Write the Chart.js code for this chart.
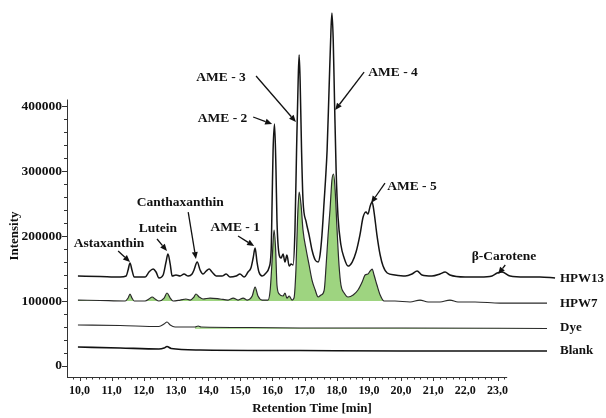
<!DOCTYPE html>
<html><head><meta charset="utf-8">
<script src="https://cdn.jsdelivr.net/npm/chart.js@4.4.0/dist/chart.umd.min.js"></script>
<style>html,body{margin:0;padding:0;background:#fff}</style>
</head><body>
<canvas id="c" width="606" height="418"></canvas>
<script>
// ---- data (retention time in min, intensity) ----
const hpw13Time = [9.95,10.64,11.26,11.45,11.51,11.57,11.63,11.70,12.04,12.16,12.29,12.38,12.47,12.60,12.69,12.75,12.82,12.88,13.00,13.13,13.25,13.38,13.50,13.56,13.66,13.75,13.84,13.94,14.03,14.12,14.25,14.43,14.56,14.68,14.87,14.99,15.12,15.24,15.33,15.40,15.46,15.52,15.58,15.68,15.80,15.89,15.96,15.99,16.02,16.065,16.11,16.14,16.21,16.27,16.33,16.39,16.45,16.52,16.58,16.64,16.70,16.75,16.80,16.83,16.86,16.905,16.95,17.05,17.14,17.23,17.33,17.42,17.48,17.54,17.61,17.65,17.70,17.76,17.82,17.85,17.89,17.93,17.98,18.04,18.13,18.23,18.35,18.48,18.60,18.72,18.82,18.91,18.97,19.04,19.10,19.16,19.25,19.35,19.44,19.57,19.81,20.13,20.34,20.50,20.65,20.96,21.21,21.37,21.52,21.99,22.46,22.83,22.99,23.14,23.39,23.86,24.32,24.79];
const hpw13Int = [138500,137700,136900,138500,147700,158500,147700,136900,136900,144600,149200,144600,135400,140000,160000,172300,156900,138500,140000,138500,141500,138500,141500,147700,160000,147700,141500,146200,149200,144600,138500,138500,141500,136900,138500,141500,136900,144600,150800,166200,181500,160000,144600,138500,143100,150800,178500,255400,332300,372300,301500,224600,170800,166200,172300,160000,170800,153800,156900,155400,209200,332300,440000,478500,440000,332300,255400,221500,201500,178500,163100,160000,170800,201500,255400,286200,332300,424600,516900,543100,501500,409200,301500,229200,186200,166200,153800,160000,175400,201500,229200,236900,233800,246200,252300,236900,201500,170800,153800,143100,140000,138500,141500,146200,140000,138500,141500,144600,140000,136900,136900,138500,143100,144600,138500,136900,136900,135400];

const hpw7Time = [9.95,10.64,11.42,11.51,11.57,11.63,11.70,12.04,12.16,12.26,12.35,12.47,12.63,12.72,12.82,12.91,13.13,13.31,13.44,13.56,13.62,13.72,13.84,14.06,14.37,14.62,14.78,14.93,15.09,15.21,15.37,15.46,15.55,15.68,15.86,15.93,15.99,16.05,16.10,16.14,16.21,16.33,16.39,16.45,16.52,16.61,16.67,16.73,16.78,16.83,16.89,16.95,17.05,17.14,17.23,17.33,17.42,17.51,17.61,17.67,17.73,17.79,17.85,17.90,17.95,18.01,18.07,18.13,18.23,18.35,18.51,18.66,18.79,18.88,18.97,19.04,19.10,19.16,19.25,19.35,19.47,19.81,20.28,20.59,20.84,21.21,21.52,21.77,22.30,23.08,23.86,24.54];
const hpw7Int = [101500,100800,100000,104600,110800,104600,100000,100000,103100,106200,103100,100000,104600,112300,104600,100000,101500,103100,101500,106200,110800,106200,103100,104600,103100,101500,104600,101500,104600,101500,107700,121500,107700,101500,101500,116900,163100,209200,178500,124600,110800,107700,112300,104600,107700,101500,104600,147700,224600,267700,247700,209200,178500,155400,132300,116900,106200,109200,116900,155400,201500,240000,286200,295400,270800,209200,155400,124600,112300,106200,109200,116900,129200,140000,141500,146200,149200,140000,124600,109200,100000,100000,98500,101500,98500,98500,101500,98500,98500,96900,96900,96900];

const dyeTime = [9.95,11.26,12.47,12.63,12.72,12.82,12.97,13.59,13.69,13.78,15.30,16.86,19.97,24.54];
const dyeInt = [63100,62300,60800,64600,67700,63100,60000,60000,61500,60000,59200,58500,58500,57700];

const blankTime = [9.95,11.26,12.47,12.63,12.72,12.85,13.75,16.86,19.97,24.54];
const blankInt = [29200,27700,26200,27700,30000,26900,24600,23800,23100,23100];

const traceNames = ['HPW13','HPW7','Dye','Blank'];
const traceNameInt = [133800,95400,58500,23100];
const hpw7FillBase = 100000;
const dyeFillBase = 57000;
const dyeFillStart = 13.0;

const xTickValues = [10,11,12,13,14,15,16,17,18,19,20,21,22,23];
const yTickValues = [0,100000,200000,300000,400000];

const peakNames = ['Astaxanthin','Lutein','Canthaxanthin','AME - 1','AME - 2','AME - 3','AME - 4','AME - 5','\u03b2-Carotene'];
const peakLabelTime = [10.92,12.44,13.13,14.84,14.45,14.40,19.75,20.34,23.20];
const peakLabelInt = [189000,212300,250800,213800,381500,444600,450800,275400,169200];
const arrowFromTime = [11.20,12.41,13.38,14.93,15.40,15.49,18.85,19.50,23.24];
const arrowFromInt = [176900,195400,236900,200000,383100,446200,452300,281500,155400];
const arrowToTime = [11.57,12.72,13.62,15.43,15.99,16.73,17.95,19.07,23.02];
const arrowToInt = [160000,176900,164600,184600,372300,375400,393800,250800,141500];

const X_MIN = 9.61, X_MAX = 24.85, X_AXIS_END = 23.3;
const Y_MIN = -16900, Y_MAX = 558500, Y_AXIS_END = 410000;

const FONT = "'Liberation Serif','Times New Roman',serif";
const INK = '#111';
const GREEN = 'rgb(158,212,128)';

function pts(t, v) { return t.map((x, i) => ({x: x, y: v[i]})); }

const overlay = {
  id: 'overlay',
  beforeDatasetsDraw(chart) {
    // thin green band under the Dye trace (from dyeFillStart on)
    const ctx = chart.ctx, xs = chart.scales.x, ys = chart.scales.y;
    const meta = chart.getDatasetMeta(2);
    ctx.save();
    ctx.fillStyle = GREEN;
    ctx.beginPath();
    const x0 = xs.getPixelForValue(dyeFillStart);
    const pts2 = meta.data.filter(p => p.x >= x0);
    if (pts2.length) {
      ctx.moveTo(pts2[0].x, ys.getPixelForValue(dyeFillBase));
      pts2.forEach(p => ctx.lineTo(p.x, p.y));
      ctx.lineTo(pts2[pts2.length - 1].x, ys.getPixelForValue(dyeFillBase));
      ctx.closePath();
      ctx.globalAlpha = 0.8;
      ctx.fill();
    }
    ctx.restore();
  },
  afterDraw(chart) {
    const ctx = chart.ctx, xs = chart.scales.x, ys = chart.scales.y;
    const X = v => xs.getPixelForValue(v), Y = v => ys.getPixelForValue(v);
    ctx.save();
    ctx.strokeStyle = '#333'; ctx.lineWidth = 1;
    ctx.beginPath();
    ctx.moveTo(X(X_MIN), Math.round(Y(Y_MIN)) + 0.5); ctx.lineTo(X(X_AXIS_END), Math.round(Y(Y_MIN)) + 0.5);
    ctx.moveTo(Math.round(X(X_MIN)) + 0.5, Y(Y_MIN)); ctx.lineTo(Math.round(X(X_MIN)) + 0.5, Y(Y_AXIS_END));
    ctx.stroke();
    ctx.beginPath();
    for (let k = 49; k <= 116; k++) {
      const v = k / 5;
      const major = k % 5 === 0;
      const px = Math.round(X(v)) + 0.5;
      ctx.moveTo(px, Y(Y_MIN)); ctx.lineTo(px, Y(Y_MIN) + (major ? 4 : 2.5));
    }
    for (let k = 0; k <= 20; k++) {
      const v = k * 20000;
      const major = k % 5 === 0;
      const py = Math.round(Y(v)) + 0.5;
      ctx.moveTo(X(X_MIN), py); ctx.lineTo(X(X_MIN) - (major ? 5 : 3), py);
    }
    ctx.stroke();

    ctx.fillStyle = INK;
    ctx.font = 'bold 13px ' + FONT;
    ctx.save();
    ctx.translate(15, Y(200000));
    ctx.rotate(-Math.PI / 2);
    ctx.textAlign = 'center'; ctx.textBaseline = 'middle';
    ctx.fillText('Intensity', 0, 0);
    ctx.restore();

    ctx.font = 'bold 13.5px ' + FONT;
    ctx.textAlign = 'center'; ctx.textBaseline = 'middle';
    ctx.strokeStyle = INK; ctx.fillStyle = INK; ctx.lineWidth = 1.3;
    peakNames.forEach((name, i) => {
      ctx.fillText(name, X(peakLabelTime[i]), Y(peakLabelInt[i]));
      const x1 = X(arrowFromTime[i]), y1 = Y(arrowFromInt[i]);
      const x2 = X(arrowToTime[i]), y2 = Y(arrowToInt[i]);
      const a = Math.atan2(y2 - y1, x2 - x1);
      const L = 7, W = 3;
      const bx = x2 - L * Math.cos(a), by = y2 - L * Math.sin(a);
      ctx.beginPath(); ctx.moveTo(x1, y1); ctx.lineTo(bx, by); ctx.stroke();
      ctx.beginPath();
      ctx.moveTo(x2, y2);
      ctx.lineTo(bx + W * Math.sin(a), by - W * Math.cos(a));
      ctx.lineTo(bx - W * Math.sin(a), by + W * Math.cos(a));
      ctx.closePath(); ctx.fill();
    });

    ctx.font = 'bold 13px ' + FONT;
    ctx.textAlign = 'left';
    traceNames.forEach((n, i) => {
      ctx.fillText(n, chart.chartArea.right + 3, Y(traceNameInt[i]));
    });
    ctx.restore();
  }
};

new Chart(document.getElementById('c'), {
  type: 'line',
  data: {
    datasets: [
      { label: 'HPW13', data: pts(hpw13Time, hpw13Int), borderColor: '#151515', borderWidth: 1.5, pointRadius: 0, fill: false, cubicInterpolationMode: 'monotone' },
      { label: 'HPW7', data: pts(hpw7Time, hpw7Int), borderColor: '#2a2a2a', borderWidth: 1.2, pointRadius: 0, cubicInterpolationMode: 'monotone',
        fill: { target: { value: hpw7FillBase }, above: GREEN, below: 'rgba(0,0,0,0)' }, backgroundColor: GREEN },
      { label: 'Dye', data: pts(dyeTime, dyeInt), borderColor: '#2a2a2a', borderWidth: 1.1, pointRadius: 0, fill: false, cubicInterpolationMode: 'monotone' },
      { label: 'Blank', data: pts(blankTime, blankInt), borderColor: '#111', borderWidth: 1.6, pointRadius: 0, fill: false, cubicInterpolationMode: 'monotone' }
    ]
  },
  options: {
    responsive: false,
    animation: false,
    layout: { padding: { left: 0, right: 49, top: 3, bottom: 0 } },
    plugins: { legend: { display: false }, tooltip: { enabled: false } },
    scales: {
      x: {
        type: 'linear', min: X_MIN, max: X_MAX,
        grid: { display: false, drawTicks: false },
        border: { display: false },
        afterBuildTicks: s => { s.ticks = xTickValues.map(v => ({ value: v })); },
        afterFit: s => { s.height = 41; s.paddingLeft = 0; s.paddingRight = 0; },
        ticks: { padding: 7, autoSkip: false, maxRotation: 0, color: INK,
          font: { family: FONT, size: 12, weight: 'bold' },
          callback: v => Number(v).toFixed(1).replace('.', ',') },
        title: { display: true, text: 'Retention Time [min]', color: INK,
          font: { family: FONT, size: 13, weight: 'bold' }, padding: { top: 0, bottom: 2 } }
      },
      y: {
        type: 'linear', min: Y_MIN, max: Y_MAX,
        grid: { display: false, drawTicks: false },
        border: { display: false },
        afterBuildTicks: s => { s.ticks = yTickValues.map(v => ({ value: v })); },
        afterFit: s => { s.width = 67; s.paddingTop = 0; s.paddingBottom = 0; },
        ticks: { padding: 5, color: INK, font: { family: FONT, size: 13.5, weight: 'bold' },
          callback: v => String(v) }
      }
    }
  },
  plugins: [overlay]
});
</script>
</body></html>
